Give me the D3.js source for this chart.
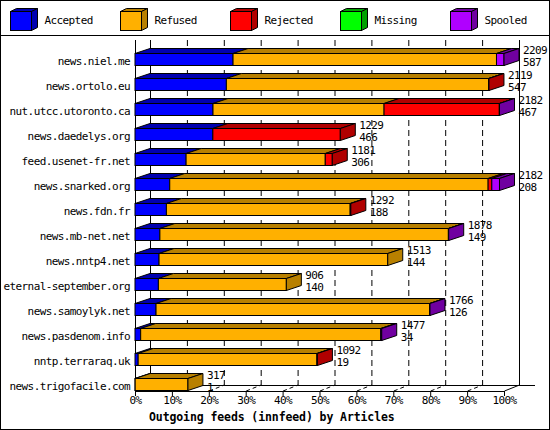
<!DOCTYPE html><html><head><meta charset="utf-8"><script src="https://cdn.jsdelivr.net/npm/d3@7"></script>
<style>body{margin:0;background:#fff}text{font-family:"DejaVu Sans Mono",monospace;font-size:11px;letter-spacing:-0.6px}</style></head><body><svg id="c" width="550" height="430"></svg>
<script>
const hosts=["news.niel.me","news.ortolo.eu","nut.utcc.utoronto.ca","news.daedelys.org","feed.usenet-fr.net","news.snarked.org","news.fdn.fr","news.mb-net.net","news.nntp4.net","eternal-september.org","news.samoylyk.net","news.pasdenom.info","nntp.terraraq.uk","news.trigofacile.com"];
const offered=[2209,2119,2182,1229,1181,2182,1292,1878,1513,906,1766,1477,1092,317];
const accepted=[587,547,467,466,306,208,188,149,144,140,126,34,19,1];
const refused=[1577,1570,1024,0,833,1906,1100,1727,1369,766,1638,1437,1070,316];
const rejected=[0,2,690,763,42,22,4,0,0,0,0,0,3,0];
const missing=[0,0,0,0,0,0,0,0,0,0,0,0,0,0];
const spooled=[45,0,1,0,0,46,0,2,0,0,2,6,0,0];
const series=["Accepted","Refused","Rejected","Missing","Spooled"];
const colors=["#0000ff","#ffb000","#ff0000","#00ff00","#b000ff"];
const dark=["#0000b0","#b88000","#b00000","#00a000","#7000a0"];
const pctTicks=[0,10,20,30,40,50,60,70,80,90,100];

const svg=d3.select("#c");
const X0=135,W=369,DX=15,DY=6,FY=391,TOPY=40;
const x=d3.scaleLinear().domain([0,d3.max(offered)]).range([X0,X0+W]);
const xp=d3.scaleLinear().domain([0,100]).range([X0,X0+W]);
const y=d3.scaleBand().domain(hosts).range([53,53+25*hosts.length]).padding(0);
svg.append("rect").attr("x",0.5).attr("y",0.5).attr("width",549).attr("height",429).attr("fill","none").attr("stroke","#000");
svg.append("line").attr("x1",0).attr("x2",550).attr("y1",35.5).attr("y2",35.5).attr("stroke","#000");
// legend
series.forEach((s,i)=>{
  const lx=10.5+i*110,ly=11.5,w=21,h=19,d=6;
  const g=svg.append("g");
  g.append("path").attr("d",`M${lx},${ly}L${lx+d},${ly-3}L${lx+w+d},${ly-3}L${lx+w},${ly}Z`).attr("fill",dark[i]).attr("stroke","#000");
  g.append("path").attr("d",`M${lx+w},${ly}L${lx+w+d},${ly-3}L${lx+w+d},${ly+h-3}L${lx+w},${ly+h}Z`).attr("fill",dark[i]).attr("stroke","#000");
  g.append("rect").attr("x",lx).attr("y",ly).attr("width",w).attr("height",h).attr("fill",colors[i]).attr("stroke","#000");
  g.append("text").attr("x",lx+34).attr("y",24).text(s);
});
// walls & floor
const L=(a,b,c,d,dash)=>svg.append("line").attr("x1",a).attr("y1",b).attr("x2",c).attr("y2",d).attr("stroke","#000").attr("stroke-dasharray",dash||null);
pctTicks.slice(1,10).forEach(p=>{
  const xf=xp(p)+0.5;
  L(xf+DX,TOPY,xf+DX,FY-DY,"6,4");
  L(xf,FY,xf+DX,FY-DY,"4,3");
});
L(X0+0.5,TOPY,X0+0.5,FY);
L(X0+DX+0.5,TOPY,X0+DX+0.5,FY-DY);
L(X0+W+DX+0.5,TOPY,X0+W+DX+0.5,FY-DY);
L(X0,FY+0.5,X0+W,FY+0.5);
L(X0+DX,FY-DY+0.5,X0+W+DX+16,FY-DY+0.5);
L(X0+0.5,FY,X0+DX+0.5,FY-DY);
L(X0+W+0.5,FY,X0+W+DX+0.5,FY-DY);
// axis
const ax=svg.append("g").attr("transform",`translate(0,${FY})`).call(d3.axisBottom(xp).tickValues(pctTicks).tickFormat(d=>d+"%").tickSize(5).tickSizeOuter(0));
ax.select(".domain").remove();
ax.selectAll("text").attr("y",13).attr("dy",0).style("font-family","DejaVu Sans Mono").style("font-size","11px").style("letter-spacing","-0.6px");
ax.selectAll("line").attr("stroke","#000");
svg.append("text").attr("x",149).attr("y",421).attr("font-weight","bold").style("font-size","11.5px").style("letter-spacing","-0.1px").text("Outgoing feeds (innfeed) by Articles");
// bars
const cols=[accepted,refused,rejected,missing,spooled];
hosts.forEach((h,i)=>{
  const top=Math.round(y(h))+0.5,bh=12;
  svg.append("text").attr("x",130).attr("y",top+11).attr("text-anchor","end").text(h);
  let cum=0,segs=[];
  cols.forEach((c,k)=>{if(c[i]>0){segs.push({k,a:cum,b:cum+c[i]});cum+=c[i];}});
  segs.forEach(s=>{
    const xa=x(s.a),xb=x(s.b);
    svg.append("path").attr("d",`M${xa},${top}L${xa+DX},${top-5}L${xb+DX},${top-5}L${xb},${top}Z`).attr("fill",dark[s.k]).attr("stroke","#000");
    svg.append("rect").attr("x",xa).attr("y",top).attr("width",xb-xa).attr("height",bh).attr("fill",colors[s.k]).attr("stroke","#000");
  });
  const last=segs[segs.length-1],xe=x(cum);
  svg.append("path").attr("d",`M${xe},${top}L${xe+DX},${top-5}L${xe+DX},${top+bh-5}L${xe},${top+bh}Z`).attr("fill",dark[last.k]).attr("stroke","#000");
  svg.append("text").attr("x",xe+19).attr("y",top).text(offered[i]);
  svg.append("text").attr("x",xe+19).attr("y",top+12).text(accepted[i]);
});
</script></body></html>
